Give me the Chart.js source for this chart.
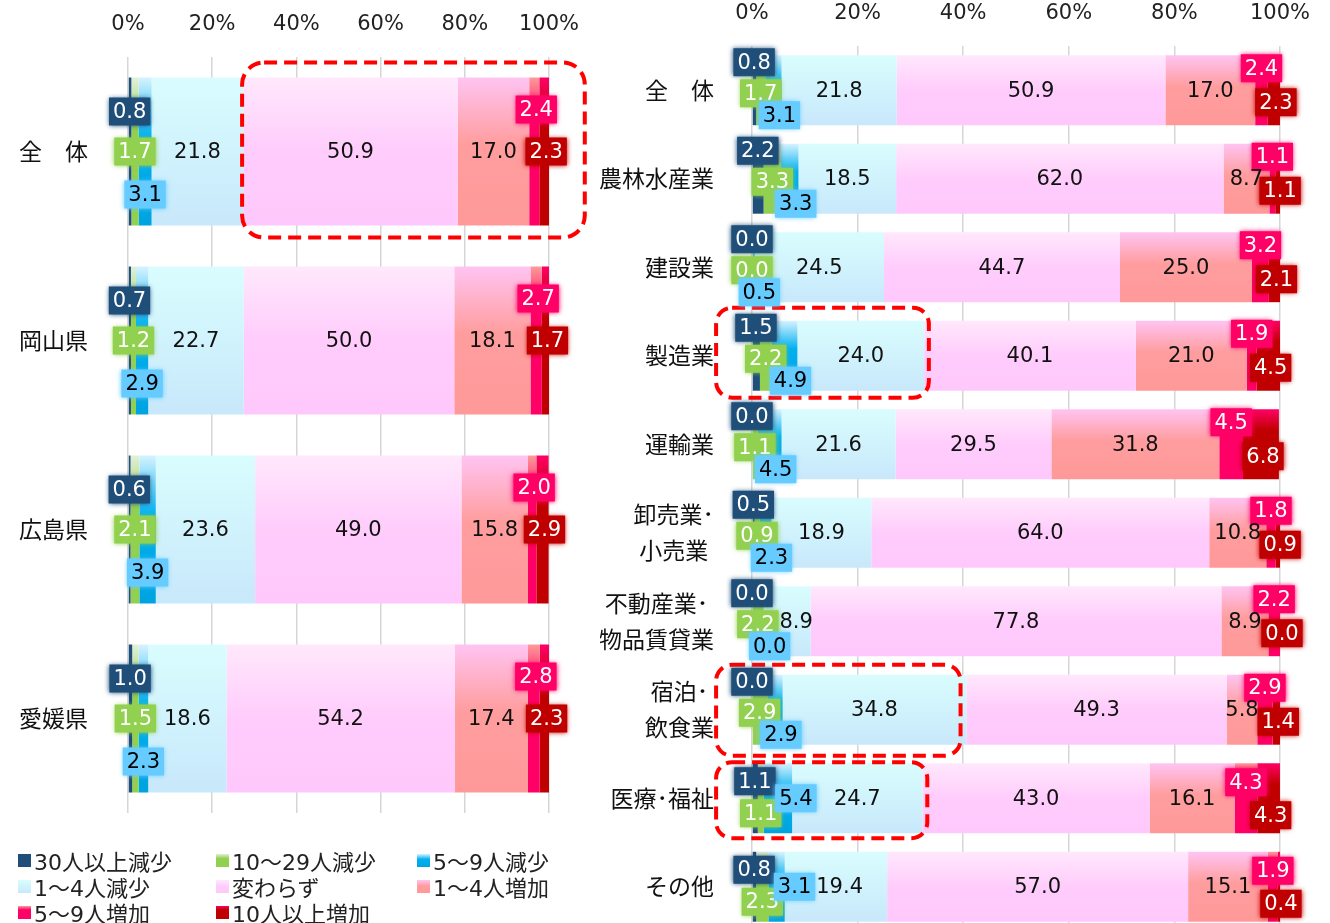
<!DOCTYPE html>
<html><head><meta charset="utf-8">
<script src="https://cdn.jsdelivr.net/npm/chart.js@4.4.1/dist/chart.umd.min.js"></script>
<style>
html,body{margin:0;padding:0;background:#fff;}
#wrap{position:relative;width:1330px;height:923px;overflow:hidden;background:#fff;}
#left{position:absolute;left:0;top:0;}
#right{position:absolute;left:600px;top:0;}
#legend{position:absolute;left:18px;top:847px;display:grid;grid-template-columns:198px 201px 200px;font:22px "DejaVu Sans","Noto Sans CJK JP",sans-serif;color:#222;}
.item{display:flex;align-items:center;height:26px;white-space:nowrap;}
.sw{width:13px;height:13px;margin-right:3px;flex:none;}
</style></head>
<body><div id="wrap">
<canvas id="left" width="600" height="850"></canvas>
<canvas id="right" width="730" height="960"></canvas>
<div id="legend"></div>
</div>
<script>
// ---------- DATA ----------
const CATS_LEFT = ['全　体', '岡山県', '広島県', '愛媛県'];
const CATS_RIGHT = ['全　体', '農林水産業', '建設業', '製造業', '運輸業', ['卸売業･', '小売業'], ['不動産業･', '物品賃貸業'], ['宿泊･', '飲食業'], '医療･福祉', 'その他'];
const SERIES_NAMES = ['30人以上減少', '10～29人減少', '5～9人減少', '1～4人減少', '変わらず', '1～4人増加', '5～9人増加', '10人以上増加'];
const X_TICK_LABELS = ['0%', '20%', '40%', '60%', '80%', '100%'];

// Left panel (prefectures), %
const L_DEC30 = [0.8, 0.7, 0.6, 1.0];
const L_DEC10 = [1.7, 1.2, 2.1, 1.5];
const L_DEC5  = [3.1, 2.9, 3.9, 2.3];
const L_DEC1  = [21.8, 22.7, 23.6, 18.6];
const L_SAME  = [50.9, 50.0, 49.0, 54.2];
const L_INC1  = [17.0, 18.1, 15.8, 17.4];
const L_INC5  = [2.4, 2.7, 2.0, 2.8];
const L_INC10 = [2.3, 1.7, 2.9, 2.3];

// Right panel (industries), %
const R_DEC30 = [0.8, 2.2, 0.0, 1.5, 0.0, 0.5, 0.0, 0.0, 1.1, 0.8];
const R_DEC10 = [1.7, 3.3, 0.0, 2.2, 1.1, 0.9, 2.2, 2.9, 1.1, 2.3];
const R_DEC5  = [3.1, 3.3, 0.5, 4.9, 4.5, 2.3, 0.0, 2.9, 5.4, 3.1];
const R_DEC1  = [21.8, 18.5, 24.5, 24.0, 21.6, 18.9, 8.9, 34.8, 24.7, 19.4];
const R_SAME  = [50.9, 62.0, 44.7, 40.1, 29.5, 64.0, 77.8, 49.3, 43.0, 57.0];
const R_INC1  = [17.0, 8.7, 25.0, 21.0, 31.8, 10.8, 8.9, 5.8, 16.1, 15.1];
const R_INC5  = [2.4, 1.1, 3.2, 1.9, 4.5, 1.8, 2.2, 2.9, 4.3, 1.9];
const R_INC10 = [2.3, 1.1, 2.1, 4.5, 6.8, 0.9, 0.0, 1.4, 4.3, 0.4];

// ---------- STYLE ----------
const GRADS = [
  [[0, '#1F4E79'], [1, '#1F4E79']],
  [[0, '#E2F0D9'], [0.35, '#92D050'], [1, '#92D050']],
  [[0, '#D6F3FF'], [0.4, '#00B0F0'], [1, '#00A3E0']],
  [[0, '#D9FDFE'], [1, '#C8E8FB']],
  [[0, '#FFE8FC'], [0.5, '#FFCCFC'], [1, '#FFC8FC']],
  [[0, '#FFC4F2'], [0.45, '#FF9D9E'], [1, '#FF9999']],
  [[0, '#FF9999'], [0.3, '#FF0066'], [1, '#FF0066']],
  [[0, '#FF0066'], [0.3, '#C00000'], [1, '#C00000']]
];
const PLAIN = [3, 4, 5];
const BOXED = [0, 1, 2, 6, 7];
const BOX_STYLE = {
  0: {bg: '#1F4E79', fg: '#FFFFFF'},
  1: {bg: '#92D050', fg: '#FFFFFF'},
  2: {bg: '#66CCFF', fg: '#000000'},
  6: {bg: '#FF0066', fg: '#FFFFFF'},
  7: {bg: '#C00000', fg: '#FFFFFF'}
};
const VALUE_FONT = '21px "DejaVu Sans"';

function segFill(idx, barPct) {
  return (c) => {
    const stops = GRADS[idx];
    const chart = c.chart, area = chart.chartArea;
    if (c.type !== 'data' || !area || !chart.scales.y) return stops[stops.length - 1][1];
    const n = chart.data.labels.length;
    const pitch = (area.bottom - area.top) / n;
    const cy = chart.scales.y.getPixelForValue(c.dataIndex);
    const half = pitch * barPct / 2;
    const g = chart.ctx.createLinearGradient(0, cy - half, 0, cy + half);
    stops.forEach(([o, col]) => g.addColorStop(o, col));
    return g;
  };
}

function makeOverlay(cfg) {
  return {
    id: 'overlay',
    afterDatasetsDraw(chart) {
      const ctx = chart.ctx, xs = chart.scales.x, ys = chart.scales.y, area = chart.chartArea;
      const n = chart.data.labels.length, pitch = (area.bottom - area.top) / n, half = pitch * cfg.barPct / 2;
      ctx.save();
      // highlight frames
      ctx.strokeStyle = '#FF0000'; ctx.lineWidth = 4; ctx.setLineDash([13, 7]);
      cfg.highlights.forEach(h => {
        const cy = ys.getPixelForValue(h.cat);
        const x0 = xs.getPixelForValue(h.from), x1 = xs.getPixelForValue(h.to);
        const y0 = cy - half - h.padTop, y1 = cy + half + h.padBottom;
        ctx.beginPath(); ctx.roundRect(x0, y0, x1 - x0, y1 - y0, h.radius); ctx.stroke();
      });
      ctx.setLineDash([]);
      // value labels
      ctx.font = VALUE_FONT; ctx.textAlign = 'center'; ctx.textBaseline = 'middle';
      for (let i = 0; i < n; i++) {
        const cy = ys.getPixelForValue(i);
        const vals = chart.data.datasets.map(d => d.data[i]);
        const starts = []; let cum = 0; vals.forEach(v => { starts.push(cum); cum += v; });
        const inline = (cfg.inlineRows || []).includes(i);
        const boxes = [];
        BOXED.forEach(s => {
          const st = BOX_STYLE[s];
          const off = (inline && cfg.inlineOffsets) ? cfg.inlineOffsets[s] : cfg.offsets[s];
          const cx = xs.getPixelForValue(starts[s] + vals[s] / 2) + off[0];
          const y = cy + off[1];
          const txt = vals[s].toFixed(1);
          const w = ctx.measureText(txt).width + 8, h = 28;
          ctx.save(); ctx.shadowColor = st.bg; ctx.shadowBlur = 5; ctx.fillStyle = st.bg;
          ctx.fillRect(cx - w / 2, y - h / 2, w, h); ctx.restore();
          ctx.fillStyle = st.fg; ctx.fillText(txt, cx, y + 1);
          if (s < 3) boxes.push({r: cx + w / 2, t: y - h / 2, b: y + h / 2});
        });
        PLAIN.forEach(s => {
          const txt = vals[s].toFixed(1);
          const w = ctx.measureText(txt).width;
          let cx = xs.getPixelForValue(starts[s] + vals[s] / 2);
          boxes.forEach(bx => {
            if (bx.b > cy - 10 && bx.t < cy + 10 && cx - w / 2 < bx.r + 1) cx = bx.r + 1 + w / 2;
          });
          ctx.fillStyle = '#111'; ctx.fillText(txt, cx, cy + 1);
        });
      }
      ctx.restore();
    },
    afterDraw(chart) {
      const ctx = chart.ctx, ys = chart.scales.y;
      ctx.save();
      ctx.font = '23px "Noto Sans CJK JP"'; ctx.textAlign = 'center'; ctx.textBaseline = 'middle'; ctx.fillStyle = '#111';
      chart.data.labels.forEach((lab, i) => {
        const lines = Array.isArray(lab) ? lab : [lab];
        const maxW = Math.max(...lines.map(t => ctx.measureText(t).width));
        const cx = cfg.labelRight - maxW / 2;
        const cy = ys.getPixelForValue(i);
        lines.forEach((t, k) => ctx.fillText(t, cx, cy + (k - (lines.length - 1) / 2) * 36));
      });
      ctx.restore();
    }
  };
}

function makeChart(id, cats, seriesData, cfg) {
  return new Chart(document.getElementById(id), {
    type: 'bar',
    data: {
      labels: cats,
      datasets: SERIES_NAMES.map((name, i) => ({
        label: name, data: seriesData[i], backgroundColor: segFill(i, cfg.barPct),
        borderWidth: 0, barPercentage: cfg.barPct, categoryPercentage: 1
      }))
    },
    options: {
      indexAxis: 'y', responsive: false, animation: false,
      layout: {padding: {left: 0, right: cfg.padRight, top: 0, bottom: cfg.padBottom}},
      scales: {
        x: {
          position: 'top', stacked: true, min: 0, max: 100,
          ticks: {stepSize: 20, callback: (v, i) => X_TICK_LABELS[i], font: {family: 'DejaVu Sans', size: 21}, color: '#222', padding: 20},
          grid: {color: '#D6D6D6', lineWidth: 1.5, drawTicks: false},
          border: {display: false},
          afterFit(s) { s.height = cfg.axisH; }
        },
        y: {
          stacked: true, ticks: {display: false}, grid: {display: false}, border: {display: false},
          afterFit(s) { s.width = cfg.yW; }
        }
      },
      plugins: {legend: {display: false}, tooltip: {enabled: false}}
    },
    plugins: [makeOverlay(cfg)]
  });
}

makeChart('left', CATS_LEFT, [L_DEC30, L_DEC10, L_DEC5, L_DEC1, L_SAME, L_INC1, L_INC5, L_INC10], {
  barPct: 0.783, padRight: 51, padBottom: 37, axisH: 57, yW: 128, labelRight: 88,
  offsets: {0: [0, -40], 1: [0, 0], 2: [0, 43], 6: [2, -42], 7: [2, 0]},
  highlights: [{cat: 0, from: 27.1, to: 108.5, padTop: 15, padBottom: 12, radius: 22}]
});

makeChart('right', CATS_RIGHT, [R_DEC30, R_DEC10, R_DEC5, R_DEC1, R_SAME, R_INC1, R_INC5, R_INC10], {
  barPct: 0.79, padRight: 47, padBottom: 29, axisH: 46, yW: 152, labelRight: 114,
  offsets: {0: [0, -28], 1: [0, 3], 2: [6, 25], 6: [0, -22], 7: [2, 12]},
  inlineRows: [8, 9],
  inlineOffsets: {0: [0, -17], 1: [0, 15], 2: [18, 0], 6: [0, -16], 7: [2, 17]},
  highlights: [
    {cat: 3, from: -6.8, to: 33.5, padTop: 13, padBottom: 7, radius: 16},
    {cat: 7, from: -6.8, to: 39.5, padTop: 10, padBottom: 11, radius: 16},
    {cat: 8, from: -6.8, to: 33.2, padTop: 1, padBottom: 5, radius: 16}
  ]
});

// legend
const lg = document.getElementById('legend');
SERIES_NAMES.forEach((name, i) => {
  const it = document.createElement('div'); it.className = 'item';
  const sw = document.createElement('span'); sw.className = 'sw';
  sw.style.background = 'linear-gradient(to bottom,' + GRADS[i].map(([o, c]) => c + ' ' + (o * 100) + '%').join(',') + ')';
  const tx = document.createElement('span'); tx.textContent = name;
  it.appendChild(sw); it.appendChild(tx); lg.appendChild(it);
});
</script>
</body></html>
